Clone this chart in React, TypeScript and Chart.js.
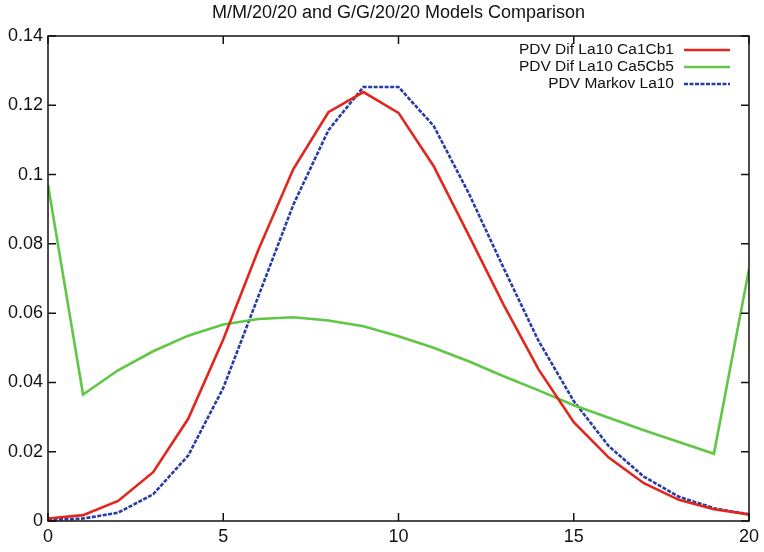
import React, { useEffect, useRef } from "react";
import { Chart, registerables } from "chart.js";

Chart.register(...registerables);

const titleText = "M/M/20/20 and G/G/20/20 Models Comparison";
const xValues = [0, 1, 2, 3, 4, 5, 6, 7, 8, 9, 10, 11, 12, 13, 14, 15, 16, 17, 18, 19, 20];
const seriesLabels = ["PDV Dif La10 Ca1Cb1", "PDV Dif La10 Ca5Cb5", "PDV Markov La10"];
const difCa1Cb1 = [0.0007, 0.0017, 0.0058, 0.0141, 0.0295, 0.0524, 0.0782, 0.1016, 0.118, 0.1238, 0.1178, 0.1025, 0.0826, 0.0624, 0.0437, 0.0285, 0.0183, 0.0109, 0.0061, 0.0034, 0.0019];
const difCa5Cb5 = [0.097, 0.0365, 0.0435, 0.049, 0.0535, 0.0567, 0.0583, 0.0588, 0.0579, 0.0562, 0.0533, 0.05, 0.0461, 0.0418, 0.0377, 0.0334, 0.0298, 0.0262, 0.0228, 0.0194, 0.0727];
const markov = [0.0003, 0.0007, 0.0024, 0.0077, 0.0189, 0.0384, 0.0648, 0.0913, 0.1128, 0.1253, 0.1253, 0.1141, 0.0947, 0.073, 0.0519, 0.0346, 0.0216, 0.0128, 0.007, 0.0037, 0.0019];
const xTicks = [0, 5, 10, 15, 20];
const yTicks = [0, 0.02, 0.04, 0.06, 0.08, 0.1, 0.12, 0.14];

const colors = ["rgb(226,38,30)", "rgb(96,198,70)", "rgb(40,60,165)"];
const FONT = "'Liberation Sans', Helvetica, Arial, sans-serif";

const framePlugin = {
  id: "frameTicks",
  afterDatasetsDraw(chart: any) {
    const { ctx, chartArea } = chart;
    const { left, right, top, bottom } = chartArea;
    const xs = chart.scales.x;
    const ys = chart.scales.y;
    ctx.save();
    ctx.strokeStyle = "#111";
    ctx.lineWidth = 1.5;
    const tl = 8;
    ctx.beginPath();
    xTicks.forEach((v) => {
      const px = xs.getPixelForValue(v);
      ctx.moveTo(px, bottom);
      ctx.lineTo(px, bottom - tl);
      ctx.moveTo(px, top);
      ctx.lineTo(px, top + tl);
    });
    yTicks.forEach((v) => {
      const py = ys.getPixelForValue(v);
      ctx.moveTo(left, py);
      ctx.lineTo(left + tl, py);
      ctx.moveTo(right, py);
      ctx.lineTo(right - tl, py);
    });
    ctx.stroke();
    ctx.strokeRect(left, top, right - left, bottom - top);

    // legend
    ctx.font = "15.5px " + FONT;
    ctx.textAlign = "right";
    ctx.textBaseline = "middle";
    const textRight = right - 75;
    const lx0 = right - 65;
    const lx1 = right - 19;
    chart.data.datasets.forEach((ds: any, i: number) => {
      const y = top + 14 + i * 17;
      ctx.fillStyle = "#111";
      ctx.fillText(ds.label, textRight, y);
      ctx.strokeStyle = ds.borderColor;
      ctx.lineWidth = ds.borderWidth;
      ctx.setLineDash(ds.borderDash || []);
      ctx.beginPath();
      ctx.moveTo(lx0, y);
      ctx.lineTo(lx1, y);
      ctx.stroke();
      ctx.setLineDash([]);
    });
    ctx.restore();
  },
};

export default function App() {
  const ref = useRef<HTMLCanvasElement | null>(null);
  useEffect(() => {
    if (!ref.current) return;
    const mk = (vals: number[]) => xValues.map((x, i) => ({ x, y: vals[i] }));
    const chart = new Chart(ref.current, {
      type: "line",
      data: {
        datasets: [
          { label: seriesLabels[0], data: mk(difCa1Cb1), borderColor: colors[0], borderWidth: 2.6, pointRadius: 0, tension: 0, fill: false },
          { label: seriesLabels[1], data: mk(difCa5Cb5), borderColor: colors[1], borderWidth: 2.6, pointRadius: 0, tension: 0, fill: false },
          { label: seriesLabels[2], data: mk(markov), borderColor: colors[2], borderWidth: 2.6, borderDash: [4, 1.5], pointRadius: 0, tension: 0, fill: false },
        ],
      },
      options: {
        animation: false,
        responsive: false,
        devicePixelRatio: 1,
        layout: { padding: { left: 0, right: 12, top: 0, bottom: 0 } },
        plugins: {
          legend: { display: false },
          tooltip: { enabled: false },
          title: {
            display: true,
            fullSize: false,
            text: titleText,
            color: "#111",
            font: { family: FONT, size: 18, weight: "normal" },
            padding: { top: 2, bottom: 12.4 },
          },
        },
        scales: {
          x: {
            type: "linear",
            min: 0,
            max: 20,
            grid: { display: false, drawTicks: false },
            border: { display: false },
            afterBuildTicks: (s: any) => { s.ticks = xTicks.map((v) => ({ value: v })); },
            afterFit: (s: any) => { s.height = 31; },
            ticks: { color: "#111", font: { family: FONT, size: 18 }, padding: 5, maxRotation: 0, autoSkip: false, callback: (v: any) => String(v) },
          },
          y: {
            type: "linear",
            min: 0,
            max: 0.14,
            grid: { display: false, drawTicks: false },
            border: { display: false },
            afterBuildTicks: (s: any) => { s.ticks = yTicks.map((v) => ({ value: v })); },
            afterFit: (s: any) => { s.width = 48; },
            ticks: { color: "#111", font: { family: FONT, size: 18 }, padding: 5, autoSkip: false, callback: (v: any) => String(Number(Number(v).toFixed(2))) },
          },
        },
      },
      plugins: [framePlugin],
    } as any);
    return () => chart.destroy();
  }, []);
  return (
    <div style={{ position: "absolute", left: 0, top: 0, width: 764, height: 552, background: "#fff" }}>
      <canvas ref={ref} width={764} height={552} style={{ width: 764, height: 552, display: "block" }} />
    </div>
  );
}
